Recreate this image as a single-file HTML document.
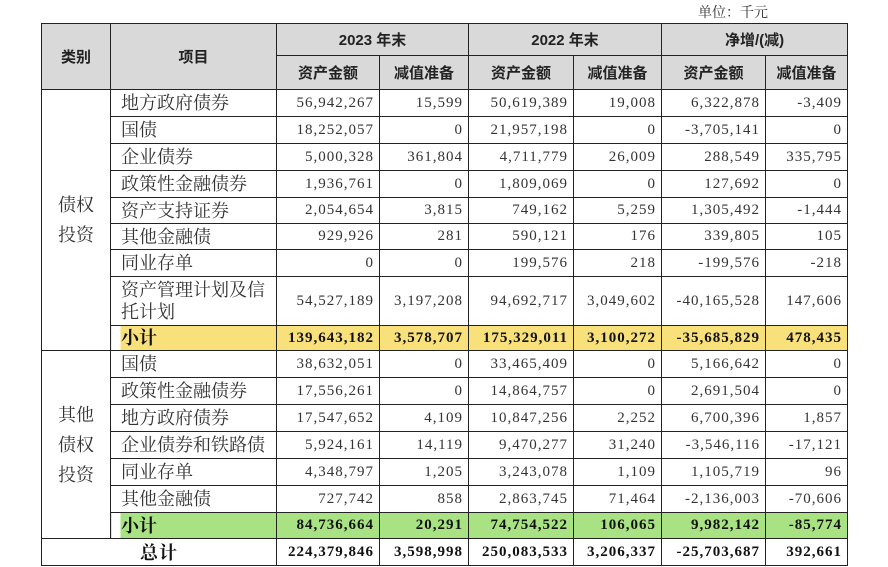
<!DOCTYPE html>
<html><head><meta charset="utf-8"><style>
body{margin:0;width:888px;height:567px;background:#fff;position:relative;overflow:hidden}
.unit{position:absolute;left:698px;top:2px;font:14px "Liberation Serif","Noto Serif CJK SC",serif;color:#333}
table{position:absolute;left:41px;top:23px;border-collapse:collapse;table-layout:fixed;width:806px}
td{border:1.5px solid #222;padding:0 5px;font:15px "Liberation Serif","Noto Serif CJK SC",serif;color:#333;text-align:right;white-space:nowrap;overflow:hidden;letter-spacing:1px}
td.it{text-align:left;font-size:18px;padding-left:10px;padding-right:2px;line-height:22px;white-space:normal;letter-spacing:0}
td.cat{text-align:center;font-size:18px;line-height:30px;letter-spacing:0}
.h td{background:#d9d9d9;font:bold 15px "Liberation Sans","Noto Sans CJK SC",sans-serif;text-align:center;color:#222;letter-spacing:0}
.y td{background:#f8e07a;font-weight:bold;color:#111}
.y td.it{background:linear-gradient(to right,#fff 9px,#f8e07a 9px);font-weight:bold}
.g td{background:#a8e283;font-weight:bold;color:#111}
.g td.it{background:linear-gradient(to right,#fff 9px,#a8e283 9px);font-weight:bold}
.t td{font-weight:bold;color:#111}
</style></head><body>
<div class="unit">单位：千元</div>
<table>
<colgroup><col style="width:69px"><col style="width:166px"><col style="width:103px"><col style="width:89px"><col style="width:105px"><col style="width:88px"><col style="width:104px"><col style="width:82px"></colgroup>
<tr class="h" style="height:32px"><td rowspan="2">类别</td><td rowspan="2">项目</td><td colspan="2">2023 年末</td><td colspan="2">2022 年末</td><td colspan="2">净增/(减)</td></tr>
<tr class="h" style="height:34px"><td>资产金额</td><td>减值准备</td><td>资产金额</td><td>减值准备</td><td>资产金额</td><td>减值准备</td></tr>
<tr style="height:27px"><td class="cat" rowspan="9">债权<br>投资</td><td class="it">地方政府债券</td><td>56,942,267</td><td>15,599</td><td>50,619,389</td><td>19,008</td><td>6,322,878</td><td>-3,409</td></tr>
<tr style="height:27px"><td class="it">国债</td><td>18,252,057</td><td>0</td><td>21,957,198</td><td>0</td><td>-3,705,141</td><td>0</td></tr>
<tr style="height:27px"><td class="it">企业债券</td><td>5,000,328</td><td>361,804</td><td>4,711,779</td><td>26,009</td><td>288,549</td><td>335,795</td></tr>
<tr style="height:27px"><td class="it">政策性金融债券</td><td>1,936,761</td><td>0</td><td>1,809,069</td><td>0</td><td>127,692</td><td>0</td></tr>
<tr style="height:26px"><td class="it">资产支持证券</td><td>2,054,654</td><td>3,815</td><td>749,162</td><td>5,259</td><td>1,305,492</td><td>-1,444</td></tr>
<tr style="height:26px"><td class="it">其他金融债</td><td>929,926</td><td>281</td><td>590,121</td><td>176</td><td>339,805</td><td>105</td></tr>
<tr style="height:27px"><td class="it">同业存单</td><td>0</td><td>0</td><td>199,576</td><td>218</td><td>-199,576</td><td>-218</td></tr>
<tr style="height:49px"><td class="it">资产管理计划及信托计划</td><td>54,527,189</td><td>3,197,208</td><td>94,692,717</td><td>3,049,602</td><td>-40,165,528</td><td>147,606</td></tr>
<tr class="y" style="height:25px"><td class="it">小计</td><td>139,643,182</td><td>3,578,707</td><td>175,329,011</td><td>3,100,272</td><td>-35,685,829</td><td>478,435</td></tr>
<tr style="height:27px"><td class="cat" rowspan="7">其他<br>债权<br>投资</td><td class="it">国债</td><td>38,632,051</td><td>0</td><td>33,465,409</td><td>0</td><td>5,166,642</td><td>0</td></tr>
<tr style="height:27px"><td class="it">政策性金融债券</td><td>17,556,261</td><td>0</td><td>14,864,757</td><td>0</td><td>2,691,504</td><td>0</td></tr>
<tr style="height:27px"><td class="it">地方政府债券</td><td>17,547,652</td><td>4,109</td><td>10,847,256</td><td>2,252</td><td>6,700,396</td><td>1,857</td></tr>
<tr style="height:27px"><td class="it">企业债券和铁路债</td><td>5,924,161</td><td>14,119</td><td>9,470,277</td><td>31,240</td><td>-3,546,116</td><td>-17,121</td></tr>
<tr style="height:27px"><td class="it">同业存单</td><td>4,348,797</td><td>1,205</td><td>3,243,078</td><td>1,109</td><td>1,105,719</td><td>96</td></tr>
<tr style="height:27px"><td class="it">其他金融债</td><td>727,742</td><td>858</td><td>2,863,745</td><td>71,464</td><td>-2,136,003</td><td>-70,606</td></tr>
<tr class="g" style="height:26px"><td class="it">小计</td><td>84,736,664</td><td>20,291</td><td>74,754,522</td><td>106,065</td><td>9,982,142</td><td>-85,774</td></tr>
<tr class="t" style="height:26px"><td colspan="2" style="text-align:center;font-size:18px">总计</td><td>224,379,846</td><td>3,598,998</td><td>250,083,533</td><td>3,206,337</td><td>-25,703,687</td><td>392,661</td></tr>
</table>
</body></html>
